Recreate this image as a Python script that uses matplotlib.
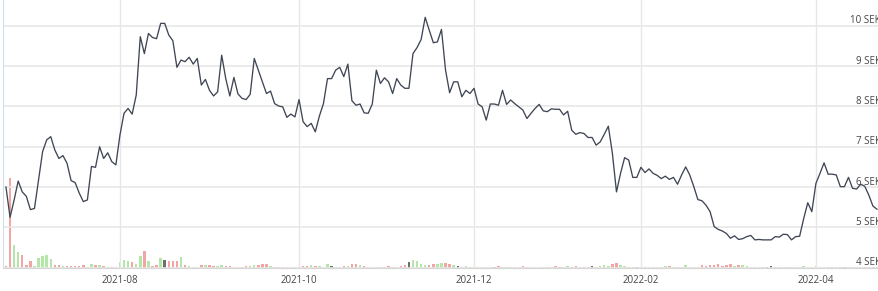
import matplotlib
matplotlib.use("Agg")
import matplotlib.pyplot as plt
import numpy as np
import pandas as pd

# trading days (Stockholm calendar)
holidays = ["2021-06-25", "2021-12-24", "2021-12-31", "2022-01-06", "2022-04-15", "2022-04-18"]
dates = pd.bdate_range("2021-06-22", "2022-04-26", freq="C", holidays=holidays)

# closing price, SEK
close = [
    # jun / jul 2021
    6.00, 5.25, 5.68, 6.15, 5.88, 5.77, 5.44, 5.47, 6.17, 6.88, 7.17, 7.25, 6.92, 6.71, 6.78,
    6.59, 6.16, 6.11, 5.85, 5.64, 5.68, 6.51, 6.49, 7.00, 6.71, 6.85, 6.63, 6.55,
    # aug
    7.29, 7.83, 7.95, 7.81, 8.28, 9.73, 9.31, 9.81, 9.71, 9.68, 10.06, 10.06, 9.77, 9.63, 8.97,
    9.15, 9.11, 9.22, 9.05, 9.19, 8.53, 8.67,
    # sep
    8.40, 8.26, 8.36, 9.27, 8.69, 8.26, 8.72, 8.31, 8.20, 8.17, 8.30, 9.19, 8.90, 8.61, 8.32,
    8.38, 8.07, 8.01, 7.99, 7.73, 7.81, 7.74,
    # oct
    8.17, 7.62, 7.50, 7.58, 7.37, 7.76, 8.07, 8.69, 8.69, 8.90, 8.97, 8.74, 9.05, 8.14, 8.03,
    8.06, 7.84, 7.83, 8.06, 8.90, 8.57,
    # nov
    8.71, 8.61, 8.32, 8.69, 8.53, 8.45, 8.45, 9.31, 9.46, 9.66, 10.21, 9.89, 9.58, 9.60, 9.91,
    8.90, 8.34, 8.61, 8.61, 8.24, 8.40, 8.32,
    # dec
    8.45, 8.06, 7.99, 7.66, 8.06, 8.06, 8.03, 8.40, 8.05, 8.16, 8.07, 7.99, 7.91, 7.70, 7.83,
    7.95, 8.05, 7.89, 7.87, 7.94, 7.93,
    # jan 2022
    7.93, 7.79, 7.88, 7.41, 7.31, 7.35, 7.33, 7.23, 7.23, 7.04, 7.12, 7.31, 7.51, 6.83, 5.88,
    6.34, 6.73, 6.67, 6.24, 6.24,
    # feb
    6.49, 6.36, 6.45, 6.34, 6.29, 6.21, 6.27, 6.19, 6.24, 6.07, 6.30, 6.50, 6.30, 6.01, 5.69,
    5.66, 5.55, 5.39, 5.02, 4.95,
    # mar
    4.91, 4.85, 4.73, 4.79, 4.70, 4.72, 4.77, 4.80, 4.69, 4.70, 4.69, 4.69, 4.69, 4.77, 4.76,
    4.83, 4.82, 4.69, 4.77, 4.78, 5.22, 5.61, 5.39,
    # apr
    6.09, 6.34, 6.60, 6.32, 6.32, 6.30, 6.01, 6.01, 6.24, 5.97, 5.95, 6.07, 6.02, 5.80, 5.53,
    5.45,
]

# traded volume (10k shares)
volume = [
    2, 89, 23, 16, 13, 3, 7, 2, 10, 12, 13, 9, 3, 3, 2, 2, 2, 2, 2, 3, 1, 4, 3, 3, 2, 1, 1, 1,
    6, 8, 7, 6, 4, 12, 17, 7, 2, 3, 10, 8, 7, 7, 7, 11, 3, 2, 1, 1, 3, 3, 3, 2,
    2, 3, 2, 2, 1, 1, 1, 2, 2, 3, 3, 4, 4, 2, 1, 1, 1, 1, 1, 1,
    1, 2, 2, 3, 2, 2, 1, 4, 2, 1, 1, 2, 2, 4, 4, 3, 2, 1, 1, 1, 1,
    1, 2, 1, 1, 2, 3, 6, 8, 7, 4, 3, 3, 4, 4, 5, 5, 4, 3, 2, 1, 2, 1,
    1, 1, 1, 1, 1, 1, 2, 1, 1, 1, 1, 1, 2, 1, 1, 1, 1, 1, 1, 1, 2,
    1, 1, 2, 1, 2, 1, 1, 1, 2, 1, 2, 3, 2, 4, 5, 3, 2, 1, 1, 1,
    1, 1, 1, 1, 1, 1, 2, 2, 1, 1, 1, 3, 1, 1, 1, 3, 2, 3, 3, 4,
    2, 3, 4, 2, 3, 3, 2, 1, 1, 1, 1, 1, 2, 1, 1, 1, 1, 1, 1, 1, 2, 1, 1,
    2, 1, 1, 1, 1, 1, 1, 1, 1, 1, 1, 1, 1, 1, 1, 1,
]

tick_months = ["2021-08", "2021-10", "2021-12", "2022-02", "2022-04"]
price_levels = [4, 5, 6, 7, 8, 9, 10]

n = min(len(dates), len(close), len(volume))
x = np.arange(n)
close = np.array(close[:n])
volume = np.array(volume[:n])

# bar colour from day-on-day change
diff = np.diff(close, prepend=close[0] + 1)
bar_colors = np.where(diff > 0, "#b3e6a8", np.where(diff < 0, "#f2a5a5", "#6e6e6e"))

month_str = dates[:n].strftime("%Y-%m")
tick_pos = [int(np.argmax(month_str == m)) for m in tick_months]

plt.rcParams["font.family"] = ["Open Sans", "DejaVu Sans"]

fig = plt.figure(figsize=(8.79, 2.91), dpi=100)
ax = fig.add_axes([0.00375, 0.0801, 0.99625, 0.9199])
axv = ax.twinx()
ax.set_zorder(axv.get_zorder() + 1)
ax.patch.set_visible(False)

axv.bar(x, volume, width=0.6, color=bar_colors, linewidth=0)
axv.set_ylim(0, volume.max() * 3.0)
axv.set_yticks([])
for s in axv.spines.values():
    s.set_visible(False)

ax.plot(x, close, color="#3f4654", lw=0.95)
ax.set_xlim(-0.66, 214.5)
ax.set_ylim(4, 10.64)

ax.set_yticks(price_levels)
ax.set_yticklabels([])
ax.tick_params(axis="y", length=0)
ax.grid(axis="y", color="#e8e8e8", lw=1.2)
ax.set_xticks(tick_pos)
ax.set_xticklabels(tick_months, fontsize=7, color="#444444")
ax.tick_params(axis="x", length=0, pad=5)
ax.grid(axis="x", color="#e6e6e6", lw=1.0)

for s in ["top", "right"]:
    ax.spines[s].set_visible(False)
ax.spines["bottom"].set_color("#d6d6d6")
ax.spines["left"].set_color("#d3dcec")

ytr = ax.get_yaxis_transform()
for v in price_levels:
    ax.text(1.0023, v + 0.12, f"{v} SEK", transform=ytr, ha="right", va="center",
            fontsize=7, color="#444444", clip_on=False)

fig.savefig("out.png", dpi=100)
